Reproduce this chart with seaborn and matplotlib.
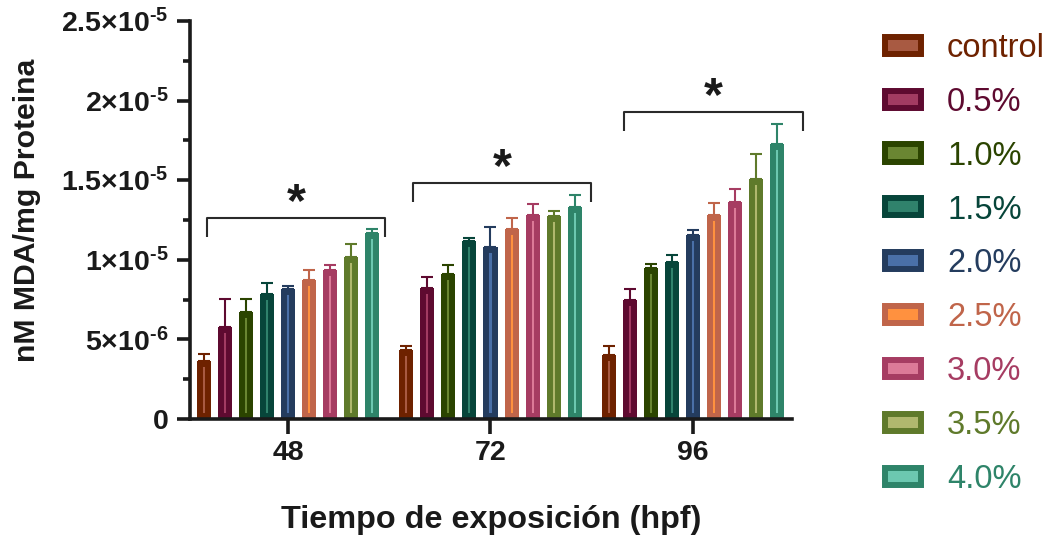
import numpy as np
import pandas as pd
import matplotlib
matplotlib.use("Agg")
import matplotlib.pyplot as plt
from matplotlib.patches import Patch
import seaborn as sns

# Exposure times (hpf) and treatment groups
times = ["48", "72", "96"]
treatments = ["control", "0.5%", "1.0%", "1.5%", "2.0%", "2.5%", "3.0%", "3.5%", "4.0%"]

# Mean MDA (nM / mg protein) and SEM per treatment, one list per time point
mda_48 = [3.64e-6, 5.80e-6, 6.74e-6, 7.87e-6, 8.17e-6, 8.71e-6, 9.34e-6, 1.016e-5, 1.170e-5]
err_48 = [0.44e-6, 1.72e-6, 0.80e-6, 0.67e-6, 0.20e-6, 0.63e-6, 0.35e-6, 0.84e-6, 0.23e-6]
mda_72 = [4.33e-6, 8.23e-6, 9.11e-6, 1.120e-5, 1.078e-5, 1.191e-5, 1.279e-5, 1.277e-5, 1.330e-5]
err_72 = [0.27e-6, 0.69e-6, 0.56e-6, 0.19e-6, 1.28e-6, 0.70e-6, 0.70e-6, 0.31e-6, 0.77e-6]
mda_96 = [4.02e-6, 7.49e-6, 9.50e-6, 9.88e-6, 1.158e-5, 1.283e-5, 1.365e-5, 1.509e-5, 1.729e-5]
err_96 = [0.58e-6, 0.67e-6, 0.25e-6, 0.42e-6, 0.31e-6, 0.73e-6, 0.80e-6, 1.56e-6, 1.26e-6]

# Y axis ticks and labels
y_ticks = [0, 5e-6, 1e-5, 1.5e-5, 2e-5, 2.5e-5]
y_minor = [2.5e-6, 7.5e-6, 1.25e-5, 1.75e-5, 2.25e-5]
y_labels = ["0", r"5×10$^{\text{-6}}$", r"1×10$^{\text{-5}}$", r"1.5×10$^{\text{-5}}$",
            r"2×10$^{\text{-5}}$", r"2.5×10$^{\text{-5}}$"]

# Significance brackets (offsets from the group centre, heights in data units)
bracket_left = [-0.403, -0.382, -0.338]
bracket_right = [0.481, 0.496, 0.544]
bracket_top = [1.264e-5, 1.484e-5, 1.930e-5]
bracket_drop = 1.19e-6
sig_marks = ["*", "*", "*"]

edge_colors = ["#6E2200", "#5E0A30", "#2B4400", "#07453A", "#243C5E",
               "#C0654A", "#A63C62", "#5F7A2B", "#2E8469"]
fill_colors = ["#A85A42", "#A23B62", "#6A8632", "#30826C", "#4A70A8",
               "#FF913F", "#DC7A98", "#B0B86E", "#6CC8B0"]
ink = "#1a1a1a"

sns.set_style("ticks")
plt.rcParams["font.family"] = ["Liberation Sans", "DejaVu Sans"]
plt.rcParams["mathtext.fontset"] = "custom"
plt.rcParams["mathtext.rm"] = "Liberation Sans:bold"
plt.rcParams["mathtext.it"] = "Liberation Sans:bold"
plt.rcParams["mathtext.bf"] = "Liberation Sans:bold"

errs = {"48": err_48, "72": err_72, "96": err_96}
df = pd.DataFrame({
    "tiempo": np.repeat(times, len(treatments)),
    "tratamiento": treatments * len(times),
    "mda": mda_48 + mda_72 + mda_96,
})

fig = plt.figure(figsize=(10.52, 5.44), dpi=100)
ax = fig.add_axes([190 / 1052, 125 / 544, 602 / 1052, 398 / 544])

sns.barplot(data=df, x="tiempo", y="mda", hue="tratamiento", order=times,
            hue_order=treatments, palette=edge_colors, saturation=1,
            width=0.935, gap=0.333, errorbar=None, legend=False, ax=ax)

# Thick inner border with a light core, plus one-sided error bars
bar_groups = list(ax.containers)
for i, cont in enumerate(bar_groups):
    xs, ys, es = [], [], []
    for j, p in enumerate(cont.patches):
        p.set_facecolor(fill_colors[i])
        p.set_edgecolor(edge_colors[i])
        p.set_linewidth(8.6)
        p.set_clip_path(p)
        xs.append(p.get_x() + p.get_width() / 2)
        ys.append(p.get_height())
        es.append(errs[times[j]][i])
    ax.errorbar(xs, ys, yerr=[np.zeros(len(es)), es], fmt="none",
                ecolor=edge_colors[i], elinewidth=1.5, capsize=4.5,
                capthick=1.5, zorder=1.8)

# Significance brackets and marks
for g, t in enumerate(times):
    l = g + bracket_left[g]
    r = g + bracket_right[g]
    top = bracket_top[g]
    ax.plot([l, l, r, r], [top - bracket_drop, top, top, top - bracket_drop],
            color="#2a2a2a", lw=1.5, clip_on=False, solid_capstyle="butt")
    ax.annotate(sig_marks[g], xy=((l + r) / 2, top), xytext=(0, 1.5),
                textcoords="offset points", ha="center", va="baseline",
                fontsize=35, fontweight="bold", color=ink, annotation_clip=False)

ax.set_xlim(-0.485, 2.49)
ax.set_ylim(0, 2.5e-5)
ax.set_yticks(y_ticks, y_labels)
ax.set_yticks(y_minor, minor=True)
ax.set_xticks(range(len(times)), times)

for side in ["top", "right"]:
    ax.spines[side].set_visible(False)
for side in ["left", "bottom"]:
    ax.spines[side].set_linewidth(2.6)
    ax.spines[side].set_color(ink)

ax.tick_params(axis="x", length=11, width=2.6, color=ink, labelsize=20.5, pad=4,
               labelcolor=ink)
ax.tick_params(axis="y", which="major", length=9.5, width=2.6, color=ink,
               labelsize=20.5, pad=6, labelcolor=ink)
ax.tick_params(axis="y", which="minor", length=5, width=2.6, color=ink)
for lab in ax.get_xticklabels() + ax.get_yticklabels():
    lab.set_fontweight("bold")

ax.set_xlabel("Tiempo de exposición (hpf)", fontsize=23.3, fontweight="bold", color=ink)
ax.set_ylabel("nM MDA/mg Proteina", fontsize=21.8, fontweight="bold", color=ink)
ax.xaxis.set_label_coords(0.5, -0.215)
ax.yaxis.set_label_coords(-0.2475, 0.525)

handles = [Patch(facecolor=f, edgecolor=e, linewidth=4.3)
           for f, e in zip(fill_colors, edge_colors)]
leg = fig.legend(handles, treatments, loc="upper left",
                 bbox_to_anchor=(885 / 1052, 1 - 33 / 544), frameon=False,
                 fontsize=23.5, handlelength=1.1, handleheight=0.43,
                 handletextpad=0.8, labelspacing=0.7, borderpad=0,
                 borderaxespad=0)
for txt, c in zip(leg.get_texts(), edge_colors):
    txt.set_color(c)

fig.savefig("out.png", dpi=100)
